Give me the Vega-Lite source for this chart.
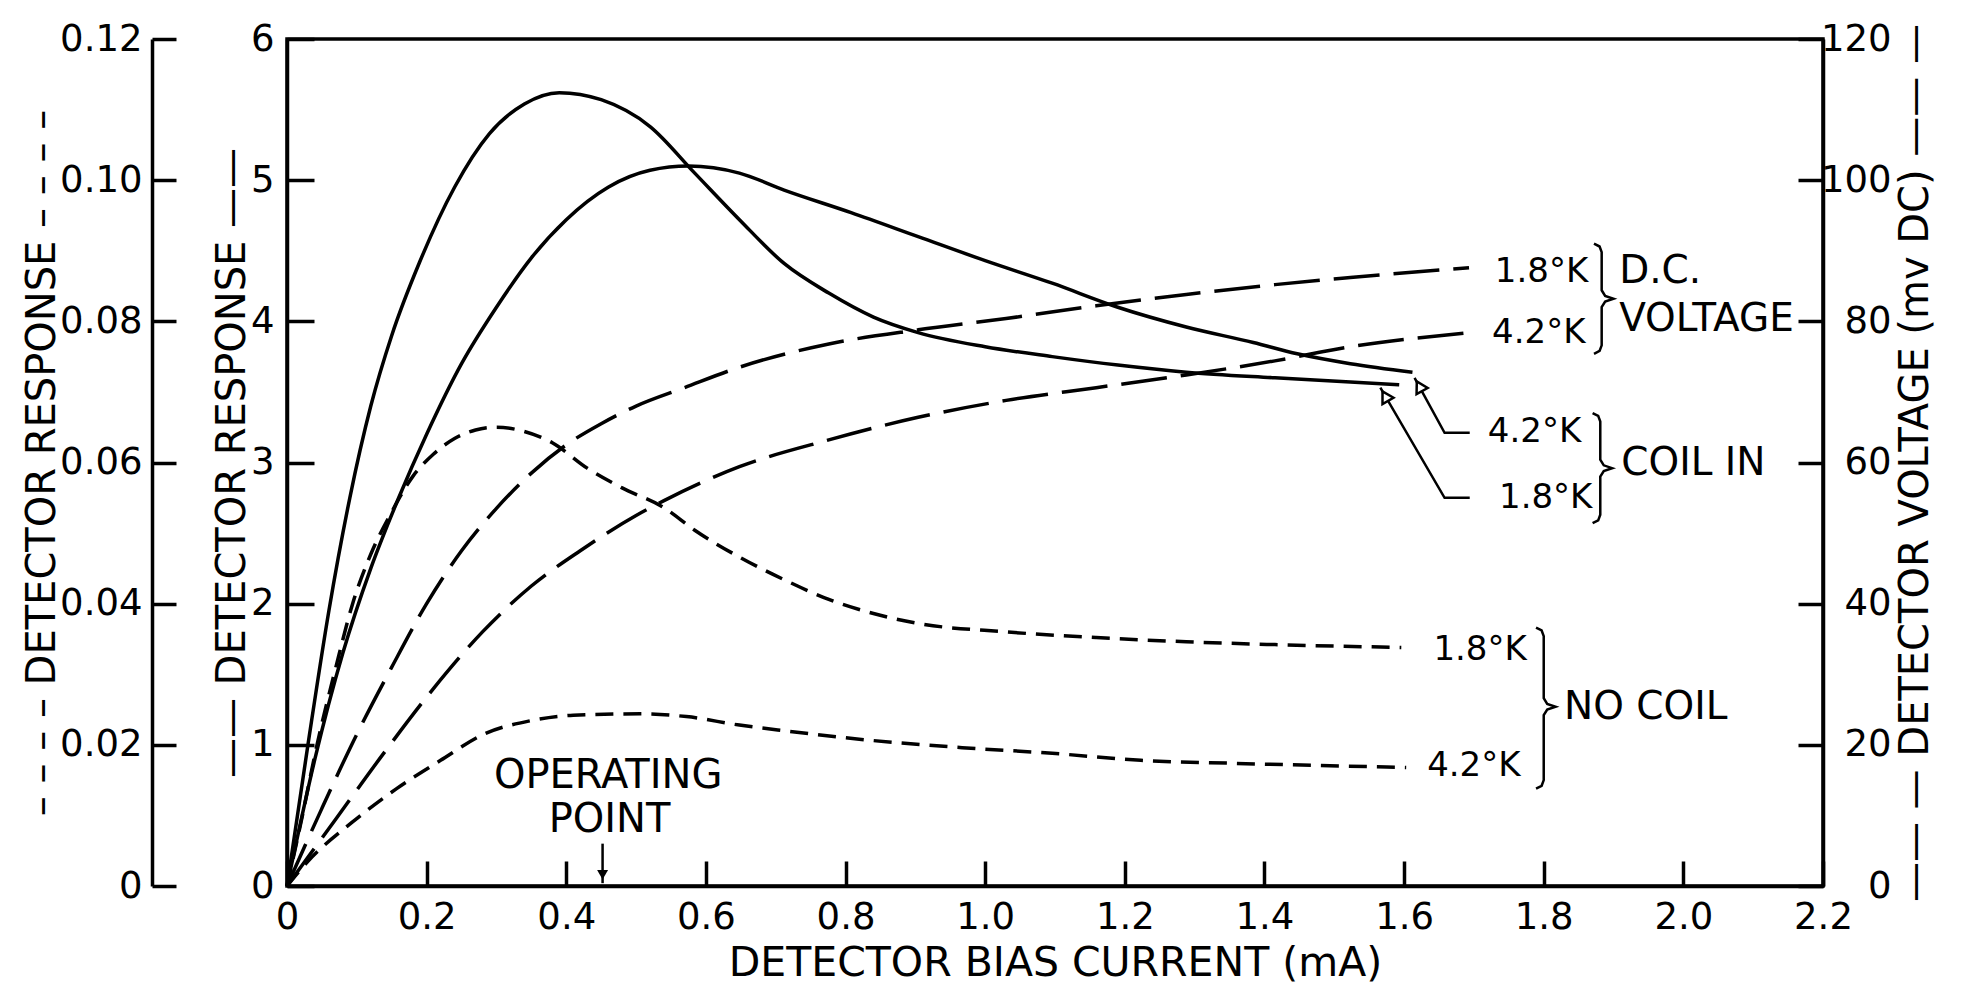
{
  "$schema": "https://vega.github.io/schema/vega-lite/v6.json",
  "width": 1536,
  "height": 847,
  "autosize": {"type": "none"},
  "padding": {"left": 287, "top": 39, "right": 140, "bottom": 102},
  "background": "white",
  "config": {
    "view": {"stroke": "black", "strokeWidth": 3.5},
    "font": "DejaVu Sans",
    "axis": {
      "domainColor": "black", "domainWidth": 3.5, "tickColor": "black", "tickWidth": 3.5,
      "labelColor": "black", "titleColor": "black", "labelFont": "DejaVu Sans", "titleFont": "DejaVu Sans",
      "labelFontSize": 37, "titleFontSize": 40, "titleFontWeight": "normal", "grid": false,
      "labelFlush": false, "labelOverlap": false
    },
    "text": {"font": "DejaVu Sans", "color": "black"}
  },
  "datasets": {
    "solid": [
      {"s": "1.8K", "x": 0, "y": 0}, {"s": "1.8K", "x": 0.03, "y": 1.0}, {"s": "1.8K", "x": 0.06, "y": 1.95},
      {"s": "1.8K", "x": 0.09, "y": 2.75}, {"s": "1.8K", "x": 0.12, "y": 3.4}, {"s": "1.8K", "x": 0.15, "y": 3.9},
      {"s": "1.8K", "x": 0.19, "y": 4.42}, {"s": "1.8K", "x": 0.24, "y": 4.95}, {"s": "1.8K", "x": 0.29, "y": 5.33},
      {"s": "1.8K", "x": 0.34, "y": 5.54}, {"s": "1.8K", "x": 0.39, "y": 5.62}, {"s": "1.8K", "x": 0.45, "y": 5.57},
      {"s": "1.8K", "x": 0.52, "y": 5.38}, {"s": "1.8K", "x": 0.584, "y": 5.05}, {"s": "1.8K", "x": 0.648, "y": 4.72},
      {"s": "1.8K", "x": 0.712, "y": 4.41}, {"s": "1.8K", "x": 0.776, "y": 4.2}, {"s": "1.8K", "x": 0.84, "y": 4.03},
      {"s": "1.8K", "x": 0.904, "y": 3.92}, {"s": "1.8K", "x": 1.0, "y": 3.82}, {"s": "1.8K", "x": 1.096, "y": 3.75},
      {"s": "1.8K", "x": 1.19, "y": 3.69}, {"s": "1.8K", "x": 1.288, "y": 3.64}, {"s": "1.8K", "x": 1.415, "y": 3.6},
      {"s": "1.8K", "x": 1.523, "y": 3.57}, {"s": "1.8K", "x": 1.593, "y": 3.55},
      {"s": "4.2K", "x": 0, "y": 0}, {"s": "4.2K", "x": 0.04, "y": 0.9}, {"s": "4.2K", "x": 0.08, "y": 1.65},
      {"s": "4.2K", "x": 0.12, "y": 2.25}, {"s": "4.2K", "x": 0.16, "y": 2.75}, {"s": "4.2K", "x": 0.2, "y": 3.2},
      {"s": "4.2K", "x": 0.25, "y": 3.7}, {"s": "4.2K", "x": 0.3, "y": 4.1}, {"s": "4.2K", "x": 0.35, "y": 4.45},
      {"s": "4.2K", "x": 0.4, "y": 4.72}, {"s": "4.2K", "x": 0.46, "y": 4.95}, {"s": "4.2K", "x": 0.52, "y": 5.07},
      {"s": "4.2K", "x": 0.575, "y": 5.1}, {"s": "4.2K", "x": 0.648, "y": 5.05}, {"s": "4.2K", "x": 0.712, "y": 4.93},
      {"s": "4.2K", "x": 0.808, "y": 4.77}, {"s": "4.2K", "x": 0.904, "y": 4.6}, {"s": "4.2K", "x": 1.0, "y": 4.43},
      {"s": "4.2K", "x": 1.096, "y": 4.27}, {"s": "4.2K", "x": 1.19, "y": 4.1}, {"s": "4.2K", "x": 1.288, "y": 3.96},
      {"s": "4.2K", "x": 1.384, "y": 3.85}, {"s": "4.2K", "x": 1.447, "y": 3.77}, {"s": "4.2K", "x": 1.523, "y": 3.7},
      {"s": "4.2K", "x": 1.612, "y": 3.64}
    ],
    "nocoil": [
      {"s": "1.8K", "x": 0, "r": 0}, {"s": "1.8K", "x": 0.02, "r": 0.009}, {"s": "1.8K", "x": 0.043, "r": 0.02},
      {"s": "1.8K", "x": 0.07, "r": 0.031}, {"s": "1.8K", "x": 0.094, "r": 0.04}, {"s": "1.8K", "x": 0.12, "r": 0.047},
      {"s": "1.8K", "x": 0.15, "r": 0.053}, {"s": "1.8K", "x": 0.18, "r": 0.058}, {"s": "1.8K", "x": 0.21, "r": 0.0612},
      {"s": "1.8K", "x": 0.24, "r": 0.0634}, {"s": "1.8K", "x": 0.27, "r": 0.0646}, {"s": "1.8K", "x": 0.3, "r": 0.065},
      {"s": "1.8K", "x": 0.34, "r": 0.0644}, {"s": "1.8K", "x": 0.38, "r": 0.0628}, {"s": "1.8K", "x": 0.43, "r": 0.0592},
      {"s": "1.8K", "x": 0.48, "r": 0.0564}, {"s": "1.8K", "x": 0.54, "r": 0.0536}, {"s": "1.8K", "x": 0.584, "r": 0.0504},
      {"s": "1.8K", "x": 0.648, "r": 0.0466}, {"s": "1.8K", "x": 0.712, "r": 0.0434}, {"s": "1.8K", "x": 0.776, "r": 0.0406},
      {"s": "1.8K", "x": 0.84, "r": 0.0386}, {"s": "1.8K", "x": 0.904, "r": 0.0372}, {"s": "1.8K", "x": 1.03, "r": 0.036},
      {"s": "1.8K", "x": 1.159, "r": 0.0352}, {"s": "1.8K", "x": 1.288, "r": 0.0346}, {"s": "1.8K", "x": 1.415, "r": 0.0342},
      {"s": "1.8K", "x": 1.596, "r": 0.0338},
      {"s": "4.2K", "x": 0, "r": 0}, {"s": "4.2K", "x": 0.029, "r": 0.0034}, {"s": "4.2K", "x": 0.093, "r": 0.009},
      {"s": "4.2K", "x": 0.157, "r": 0.0138}, {"s": "4.2K", "x": 0.22, "r": 0.0178}, {"s": "4.2K", "x": 0.284, "r": 0.0216},
      {"s": "4.2K", "x": 0.348, "r": 0.0234}, {"s": "4.2K", "x": 0.41, "r": 0.0242}, {"s": "4.2K", "x": 0.508, "r": 0.0244},
      {"s": "4.2K", "x": 0.572, "r": 0.024}, {"s": "4.2K", "x": 0.648, "r": 0.0228}, {"s": "4.2K", "x": 0.712, "r": 0.022},
      {"s": "4.2K", "x": 0.84, "r": 0.0206}, {"s": "4.2K", "x": 0.967, "r": 0.0196}, {"s": "4.2K", "x": 1.096, "r": 0.0188},
      {"s": "4.2K", "x": 1.223, "r": 0.0178}, {"s": "4.2K", "x": 1.351, "r": 0.0174}, {"s": "4.2K", "x": 1.603, "r": 0.0168}
    ],
    "dcv": [
      {"s": "1.8K", "x": 0, "mv": 0}, {"s": "1.8K", "x": 0.05, "mv": 11}, {"s": "1.8K", "x": 0.1, "mv": 21.5},
      {"s": "1.8K", "x": 0.15, "mv": 31}, {"s": "1.8K", "x": 0.2, "mv": 40}, {"s": "1.8K", "x": 0.25, "mv": 47.5},
      {"s": "1.8K", "x": 0.3, "mv": 53.5}, {"s": "1.8K", "x": 0.35, "mv": 58.5}, {"s": "1.8K", "x": 0.4, "mv": 62.5},
      {"s": "1.8K", "x": 0.45, "mv": 65.5}, {"s": "1.8K", "x": 0.5, "mv": 68}, {"s": "1.8K", "x": 0.569, "mv": 70.6},
      {"s": "1.8K", "x": 0.648, "mv": 73.5}, {"s": "1.8K", "x": 0.776, "mv": 76.8}, {"s": "1.8K", "x": 0.904, "mv": 78.8},
      {"s": "1.8K", "x": 1.03, "mv": 80.4}, {"s": "1.8K", "x": 1.159, "mv": 82.2}, {"s": "1.8K", "x": 1.288, "mv": 83.8},
      {"s": "1.8K", "x": 1.415, "mv": 85.2}, {"s": "1.8K", "x": 1.523, "mv": 86.2}, {"s": "1.8K", "x": 1.693, "mv": 87.6},
      {"s": "4.2K", "x": 0, "mv": 0}, {"s": "4.2K", "x": 0.07, "mv": 9.5}, {"s": "4.2K", "x": 0.14, "mv": 19},
      {"s": "4.2K", "x": 0.21, "mv": 28}, {"s": "4.2K", "x": 0.28, "mv": 36}, {"s": "4.2K", "x": 0.35, "mv": 42.5},
      {"s": "4.2K", "x": 0.42, "mv": 47.5}, {"s": "4.2K", "x": 0.5, "mv": 52.5}, {"s": "4.2K", "x": 0.54, "mv": 54.6},
      {"s": "4.2K", "x": 0.648, "mv": 59.4}, {"s": "4.2K", "x": 0.776, "mv": 63.2}, {"s": "4.2K", "x": 0.904, "mv": 66.4},
      {"s": "4.2K", "x": 1.03, "mv": 68.8}, {"s": "4.2K", "x": 1.159, "mv": 70.6}, {"s": "4.2K", "x": 1.288, "mv": 72.4},
      {"s": "4.2K", "x": 1.415, "mv": 74.4}, {"s": "4.2K", "x": 1.523, "mv": 76.4}, {"s": "4.2K", "x": 1.696, "mv": 78.4}
    ],
    "strokes": [
      {"g": "lead42", "i": 0, "x": 1.694, "y": 3.21}, {"g": "lead42", "i": 1, "x": 1.658, "y": 3.21}, {"g": "lead42", "i": 2, "x": 1.615, "y": 3.6},
      {"g": "lead18", "i": 0, "x": 1.694, "y": 2.75}, {"g": "lead18", "i": 1, "x": 1.658, "y": 2.75}, {"g": "lead18", "i": 2, "x": 1.566, "y": 3.53},
      {"g": "opArrow", "i": 0, "x": 0.452, "y": 0.3}, {"g": "opArrow", "i": 1, "x": 0.452, "y": 0.02},
      {"g": "braceDC", "i": 0, "x": 1.872, "y": 4.55}, {"g": "braceDC", "i": 1, "x": 1.88, "y": 4.53}, {"g": "braceDC", "i": 2, "x": 1.883, "y": 4.49},
      {"g": "braceDC", "i": 3, "x": 1.883, "y": 4.22}, {"g": "braceDC", "i": 4, "x": 1.888, "y": 4.18}, {"g": "braceDC", "i": 5, "x": 1.9, "y": 4.16},
      {"g": "braceDC", "i": 6, "x": 1.888, "y": 4.14}, {"g": "braceDC", "i": 7, "x": 1.883, "y": 4.1}, {"g": "braceDC", "i": 8, "x": 1.883, "y": 3.83},
      {"g": "braceDC", "i": 9, "x": 1.88, "y": 3.79}, {"g": "braceDC", "i": 10, "x": 1.872, "y": 3.77},
      {"g": "braceCI", "i": 0, "x": 1.87, "y": 3.35}, {"g": "braceCI", "i": 1, "x": 1.878, "y": 3.33}, {"g": "braceCI", "i": 2, "x": 1.881, "y": 3.29},
      {"g": "braceCI", "i": 3, "x": 1.881, "y": 3.02}, {"g": "braceCI", "i": 4, "x": 1.886, "y": 2.98}, {"g": "braceCI", "i": 5, "x": 1.898, "y": 2.96},
      {"g": "braceCI", "i": 6, "x": 1.886, "y": 2.94}, {"g": "braceCI", "i": 7, "x": 1.881, "y": 2.9}, {"g": "braceCI", "i": 8, "x": 1.881, "y": 2.63},
      {"g": "braceCI", "i": 9, "x": 1.878, "y": 2.59}, {"g": "braceCI", "i": 10, "x": 1.87, "y": 2.57},
      {"g": "braceNC", "i": 0, "x": 1.789, "y": 1.83}, {"g": "braceNC", "i": 1, "x": 1.797, "y": 1.81}, {"g": "braceNC", "i": 2, "x": 1.8, "y": 1.77},
      {"g": "braceNC", "i": 3, "x": 1.8, "y": 1.33}, {"g": "braceNC", "i": 4, "x": 1.805, "y": 1.29}, {"g": "braceNC", "i": 5, "x": 1.817, "y": 1.27},
      {"g": "braceNC", "i": 6, "x": 1.805, "y": 1.25}, {"g": "braceNC", "i": 7, "x": 1.8, "y": 1.21}, {"g": "braceNC", "i": 8, "x": 1.8, "y": 0.75},
      {"g": "braceNC", "i": 9, "x": 1.797, "y": 0.71}, {"g": "braceNC", "i": 10, "x": 1.789, "y": 0.69}
    ],
    "heads": [
      {"h": "h42", "x": 1.622, "y": 3.54},
      {"h": "h18", "x": 1.573, "y": 3.47},
      {"h": "op", "x": 0.452, "y": 0.08}
    ],
    "notes": [
      {"k": "temp", "t": "1.8°K", "x": 1.73, "y": 4.35},
      {"k": "temp", "t": "4.2°K", "x": 1.726, "y": 3.92},
      {"k": "temp", "t": "4.2°K", "x": 1.72, "y": 3.215},
      {"k": "temp", "t": "1.8°K", "x": 1.736, "y": 2.75},
      {"k": "temp", "t": "1.8°K", "x": 1.642, "y": 1.67},
      {"k": "temp", "t": "4.2°K", "x": 1.633, "y": 0.85},
      {"k": "group", "t": "D.C.", "x": 1.908, "y": 4.36},
      {"k": "group", "t": "VOLTAGE", "x": 1.908, "y": 4.02},
      {"k": "group", "t": "COIL IN", "x": 1.911, "y": 3.0},
      {"k": "group", "t": "NO COIL", "x": 1.829, "y": 1.27},
      {"k": "op", "t": "OPERATING", "x": 0.46, "y": 0.78},
      {"k": "op", "t": "POINT", "x": 0.462, "y": 0.47}
    ]
  },
  "encoding": {
    "x": {
      "field": "x", "type": "quantitative",
      "scale": {"domain": [0, 2.2], "nice": false, "zero": false},
      "axis": {
        "values": [0, 0.2, 0.4, 0.6, 0.8, 1.0, 1.2, 1.4, 1.6, 1.8, 2.0, 2.2],
        "labelExpr": "datum.value == 0 ? '0' : format(datum.value, '.1f')",
        "tickSize": -25, "labelPadding": 38,
        "title": "DETECTOR BIAS CURRENT (mA)", "titleFontSize": 41, "titlePadding": 8
      }
    }
  },
  "layer": [
    {
      "data": {"name": "solid"},
      "mark": {"type": "line", "interpolate": "monotone", "color": "black", "strokeWidth": 3.5},
      "encoding": {
        "y": {
          "field": "y", "type": "quantitative",
          "scale": {"domain": [0, 6], "nice": false},
          "axis": {
            "orient": "left", "values": [0, 1, 2, 3, 4, 5, 6],
            "tickSize": -27, "labelPadding": 40,
            "title": "——   DETECTOR RESPONSE   ——", "titlePadding": -2
          }
        },
        "detail": {"field": "s"}
      }
    },
    {
      "data": {"name": "nocoil"},
      "mark": {"type": "line", "interpolate": "monotone", "color": "black", "strokeWidth": 3.5, "strokeDash": [18, 10]},
      "encoding": {
        "y": {
          "field": "r", "type": "quantitative",
          "scale": {"domain": [0, 0.12], "nice": false},
          "axis": {
            "orient": "left", "offset": 135,
            "values": [0, 0.02, 0.04, 0.06, 0.08, 0.1, 0.12],
            "labelExpr": "datum.value == 0 ? '0' : format(datum.value, '.2f')",
            "tickSize": -24, "labelPadding": 34,
            "title": "– – – –   DETECTOR RESPONSE   – – – –", "titlePadding": -3
          }
        },
        "detail": {"field": "s"}
      }
    },
    {
      "data": {"name": "dcv"},
      "mark": {"type": "line", "interpolate": "monotone", "color": "black", "strokeWidth": 3.5, "strokeDash": [46, 14]},
      "encoding": {
        "y": {
          "field": "mv", "type": "quantitative",
          "scale": {"domain": [0, 120], "nice": false},
          "axis": {
            "orient": "right", "values": [0, 20, 40, 60, 80, 100, 120],
            "tickSize": -25, "labelPadding": 93, "labelAlign": "right",
            "title": "—— —    DETECTOR VOLTAGE (mv DC)    —— —", "titleAngle": 270, "titlePadding": 44
          }
        },
        "detail": {"field": "s"}
      }
    },
    {
      "data": {"name": "strokes"},
      "mark": {"type": "line", "color": "black", "strokeWidth": 2.5},
      "encoding": {
        "y": {"field": "y", "type": "quantitative", "scale": {"domain": [0, 6], "nice": false}, "axis": null},
        "detail": {"field": "g"},
        "order": {"field": "i"}
      }
    },
    {
      "data": {"name": "heads"},
      "transform": [{"filter": "datum.h == 'h42'"}],
      "mark": {"type": "point", "shape": "triangle-up", "angle": -29, "size": 160, "filled": true, "fill": "white", "stroke": "black", "strokeWidth": 2.5, "opacity": 1},
      "encoding": {"y": {"field": "y", "type": "quantitative", "scale": {"domain": [0, 6], "nice": false}, "axis": null}}
    },
    {
      "data": {"name": "heads"},
      "transform": [{"filter": "datum.h == 'h18'"}],
      "mark": {"type": "point", "shape": "triangle-up", "angle": -30, "size": 160, "filled": true, "fill": "white", "stroke": "black", "strokeWidth": 2.5, "opacity": 1},
      "encoding": {"y": {"field": "y", "type": "quantitative", "scale": {"domain": [0, 6], "nice": false}, "axis": null}}
    },
    {
      "data": {"name": "heads"},
      "transform": [{"filter": "datum.h == 'op'"}],
      "mark": {"type": "point", "shape": "triangle-down", "size": 120, "filled": true, "color": "black", "opacity": 1},
      "encoding": {"y": {"field": "y", "type": "quantitative", "scale": {"domain": [0, 6], "nice": false}, "axis": null}}
    },
    {
      "data": {"name": "notes"},
      "transform": [{"filter": "datum.k == 'temp'"}],
      "mark": {"type": "text", "align": "left", "baseline": "middle", "fontSize": 34},
      "encoding": {
        "y": {"field": "y", "type": "quantitative", "scale": {"domain": [0, 6], "nice": false}, "axis": null},
        "text": {"field": "t"}
      }
    },
    {
      "data": {"name": "notes"},
      "transform": [{"filter": "datum.k == 'group'"}],
      "mark": {"type": "text", "align": "left", "baseline": "middle", "fontSize": 39},
      "encoding": {
        "y": {"field": "y", "type": "quantitative", "scale": {"domain": [0, 6], "nice": false}, "axis": null},
        "text": {"field": "t"}
      }
    },
    {
      "data": {"name": "notes"},
      "transform": [{"filter": "datum.k == 'op'"}],
      "mark": {"type": "text", "align": "center", "baseline": "middle", "fontSize": 40},
      "encoding": {
        "y": {"field": "y", "type": "quantitative", "scale": {"domain": [0, 6], "nice": false}, "axis": null},
        "text": {"field": "t"}
      }
    }
  ],
  "resolve": {"scale": {"y": "independent"}, "axis": {"y": "independent"}}
}
